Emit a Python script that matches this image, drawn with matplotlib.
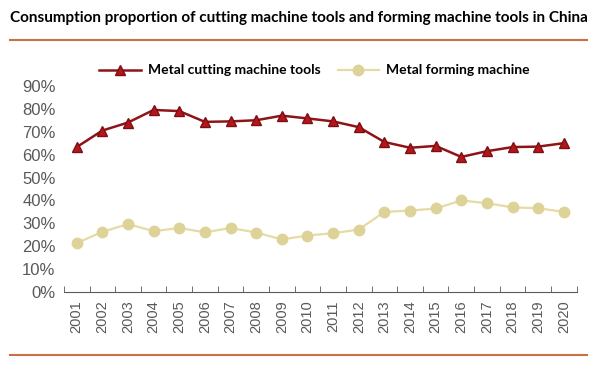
import numpy as np
import matplotlib.pyplot as plt
from matplotlib.lines import Line2D
from matplotlib.ticker import FuncFormatter, FixedLocator

years = [str(y) for y in range(2001, 2021)]
cutting = [63.3, 70.5, 74.0, 79.5, 79.0, 74.3, 74.5, 75.0, 77.0, 75.8,
           74.5, 72.0, 65.5, 63.0, 63.8, 59.0, 61.5, 63.3, 63.5, 65.0]
forming = [21.4, 26.3, 29.7, 26.6, 28.0, 26.1, 28.0, 26.0, 23.0, 24.7,
           25.7, 27.3, 35.0, 35.6, 36.5, 40.0, 38.8, 37.0, 36.6, 35.0]

plt.rcParams['font.family'] = ['Liberation Sans', 'DejaVu Sans']

fig = plt.figure(figsize=(5.97, 3.67), dpi=100)
ax = fig.add_axes([0.107, 0.204, 0.859, 0.562])

x = np.arange(len(years))
sand = '#e6dba3'
ax.plot(x, forming, color=sand, lw=1.6, marker='o', ms=7.5,
        markerfacecolor='#ddd398', markeredgecolor='#ddd398', zorder=2)
ax.plot(x, cutting, color='#8e1418', lw=1.8, marker='^', ms=7.5,
        markerfacecolor='#b8151b', markeredgecolor='#7a1014', zorder=3)

ax.set_xlim(-0.5, len(years) - 0.5)
ax.set_ylim(0, 90)
ax.set_yticks(range(0, 100, 10))
ax.yaxis.set_major_formatter(FuncFormatter(lambda v, p: f'{v:.0f}%'))
ax.set_xticks(x)
ax.set_xticklabels(years, rotation=90)
ax.xaxis.set_minor_locator(FixedLocator(np.arange(-0.5, len(years), 1)))
ax.tick_params(axis='x', which='major', length=0, pad=6, labelsize=10.5, colors='#595959')
ax.tick_params(axis='x', which='minor', length=4, direction='in', color='#595959')
ax.tick_params(axis='y', length=0, pad=6, labelsize=12, colors='#595959')
for s in ['top', 'right', 'left']:
    ax.spines[s].set_visible(False)
ax.spines['bottom'].set_color('#595959')

handles = [
    Line2D([], [], color='#8e1418', lw=1.8, marker='^', ms=7.5,
           markerfacecolor='#b8151b', markeredgecolor='#7a1014'),
    Line2D([], [], color=sand, lw=1.6, marker='o', ms=7.5,
           markerfacecolor='#ddd398', markeredgecolor='#ddd398'),
]
fig.legend(handles, ['Metal cutting machine tools', 'Metal forming machine'],
           loc='center', bbox_to_anchor=(0.527, 0.808), ncol=2, frameon=False,
           handlelength=3.0, columnspacing=1.2, handletextpad=0.5,
           prop={'family': 'Lato', 'weight': 'bold', 'size': 10})

fig.text(0.017, 0.951, 'Consumption proportion of cutting machine tools and forming machine tools in China',
         fontsize=11, fontweight='bold', family='Lato', va='center', ha='left')
fig.add_artist(Line2D([0.017, 0.983], [0.891, 0.891], color='#c8703f', lw=1.5))
fig.add_artist(Line2D([0.017, 0.983], [0.033, 0.033], color='#c8703f', lw=1.5))

fig.savefig('out.png', dpi=100, facecolor='white')
